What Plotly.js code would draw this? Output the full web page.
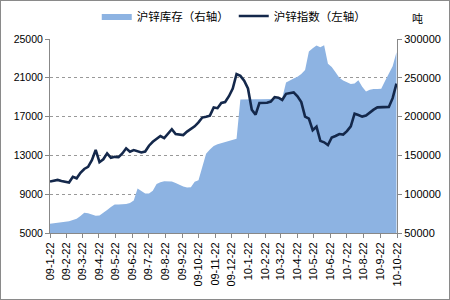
<!DOCTYPE html>
<html>
<head>
<meta charset="utf-8">
<script src="https://cdn.plot.ly/plotly-3.0.1.min.js"></script>
<style>
  html, body { margin: 0; padding: 0; background: #fff; }
  #chart { width: 450px; height: 300px; }
  #frame { position: absolute; left: 0; top: 0; width: 448px; height: 298px; border: 1px solid #8a8a8a; pointer-events: none; }
</style>
</head>
<body>
<div id="chart"></div>
<div id="frame"></div>
<script>
// Month tick labels (yy-m-dd)
var tickLabels = ['09-1-22','09-2-22','09-3-22','09-4-22','09-5-22','09-6-22','09-7-22','09-8-22','09-9-22','09-10-22','09-11-22','09-12-22',
                  '10-1-22','10-2-22','10-3-22','10-4-22','10-5-22','10-6-22','10-7-22','10-8-22','10-9-22','10-10-22'];

// Weekly observations starting 2009-01-22
var startDate = '2009-01-22';

// 沪锌库存 (tons, right axis)
var inventory = [
  62000, 62500, 63000, 63500, 64000, 65000, 66700, 68500, 72000, 76000,
  75500, 73500, 72200, 72500, 75500, 79500, 83500, 86800, 86800, 87000,
  87500, 88500, 92000, 107500, 104500, 101000, 101000, 104500, 113000, 115500,
  116800, 117000, 116500, 114500, 112000, 110000, 108700, 108800, 116000, 118000,
  135000, 152000, 157500, 162000, 164500, 166000, 167000, 168800, 170300, 171500,
  222000, 222300, 222300, 222300, 222300, 222400, 222400, 222500, 222500, 222600,
  223500, 224000, 244000, 246000, 249000, 251500, 255000, 260000, 284000, 288000,
  291500, 289500, 292000, 268000, 264000, 257000, 250000, 246500, 244500, 242000,
  242500, 247000, 238500, 232500, 234500, 235600, 235600, 236000, 246000, 256000,
  265000, 283000
];

// 沪锌指数 (left axis)
var zincIndex = [
  10300, 10400, 10470, 10350, 10250, 10200, 10800, 10640, 11200, 11600,
  11820, 12500, 13560, 12300, 12600, 13210, 12750, 12850, 12820, 13200,
  13730, 13380, 13550, 13450, 13300, 13400, 14000, 14400, 14750, 15000,
  14780, 15200, 15700, 15200, 15120, 15100, 15450, 15700, 16000, 16400,
  16900, 16980, 17100, 17950, 17870, 18400, 18500, 19100, 19900, 21390,
  21200, 20700, 19900, 17700, 17200, 18400, 18430, 18430, 18550, 19000,
  18950, 18720, 19350, 19400, 19500, 19100, 18500, 17000, 16800, 15600,
  15960, 14500, 14350, 14070, 14850, 15000, 15200, 15150, 15500, 16000,
  17300, 17160, 17000, 17100, 17450, 17720, 17950, 17960, 17980, 18000,
  18900, 20400
];

var seriesNames = ['沪锌库存（右轴）', '沪锌指数（左轴）'];

function weekDates(start, n) {
  var out = [];
  var d0 = new Date(start + 'T00:00:00Z');
  for (var i = 0; i < n; i++) {
    var d = new Date(d0.getTime() + i * 7 * 86400000);
    out.push(d.toISOString().slice(0, 10));
  }
  return out;
}
var dates = weekDates(startDate, zincIndex.length);

var tickVals = tickLabels.map(function (s) {
  var p = s.split('-');
  var mm = ('0' + p[1]).slice(-2);
  return '20' + p[0] + '-' + mm + '-' + p[2];
});

var traces = [
  {
    x: dates, y: inventory, name: seriesNames[0],
    type: 'scatter', mode: 'lines', fill: 'tozeroy',
    fillcolor: '#8db3e2', line: { width: 0, color: '#8db3e2' },
    yaxis: 'y'
  },
  {
    x: dates, y: zincIndex, name: seriesNames[1],
    type: 'scatter', mode: 'lines',
    line: { width: 2.6, color: '#14284b' },
    yaxis: 'y2'
  }
];

var fontFam = '"Liberation Sans", Arial, sans-serif';

var layout = {
  width: 450, height: 300,
  margin: { l: 50, r: 53, t: 39, b: 67 },
  paper_bgcolor: '#ffffff', plot_bgcolor: '#ffffff',
  font: { family: fontFam, color: '#000', size: 11 },
  showlegend: true,
  legend: {
    orientation: 'h',
    xref: 'container', x: 0.215, xanchor: 'left',
    yref: 'container', y: 0.995, yanchor: 'top',
    font: { family: '"Noto Sans CJK SC", sans-serif', size: 11.5, color: '#000' },
    itemwidth: 30, tracegroupgap: 0, bgcolor: 'rgba(0,0,0,0)'
  },
  xaxis: {
    type: 'date',
    range: ['2009-01-22', '2010-10-22'],
    tickvals: tickVals, ticktext: tickLabels,
    tickangle: -90,
    tickfont: { size: 11, color: '#000', family: fontFam },
    ticks: 'outside', ticklen: 4, tickcolor: '#888',
    showline: true, linecolor: '#888', linewidth: 1,
    showgrid: false, zeroline: false
  },
  yaxis: {
    side: 'right',
    range: [50000, 300000],
    tickvals: [50000, 100000, 150000, 200000, 250000, 300000],
    tickformat: 'd',
    tickfont: { size: 11, color: '#000', family: fontFam },
    ticks: 'outside', ticklen: 4, tickcolor: '#888',
    showline: true, linecolor: '#888', linewidth: 1,
    showgrid: true, gridcolor: '#999999', griddash: 'dot', gridwidth: 1,
    zeroline: false
  },
  yaxis2: {
    side: 'left', overlaying: 'y',
    range: [5000, 25000],
    tickvals: [5000, 9000, 13000, 17000, 21000, 25000],
    tickformat: 'd',
    tickfont: { size: 10.5, color: '#000', family: fontFam },
    ticks: 'outside', ticklen: 4, tickcolor: '#888',
    showline: true, linecolor: '#888', linewidth: 1,
    showgrid: false, zeroline: false
  },
  annotations: [
    {
      text: '吨', xref: 'paper', yref: 'paper', x: 1.06, y: 1.11,
      xanchor: 'center', yanchor: 'middle', showarrow: false,
      font: { family: '"Noto Sans CJK SC", sans-serif', size: 11, color: '#000' }
    }
  ]
};

Plotly.newPlot('chart', traces, layout, { displayModeBar: false, staticPlot: true });
</script>
</body>
</html>
